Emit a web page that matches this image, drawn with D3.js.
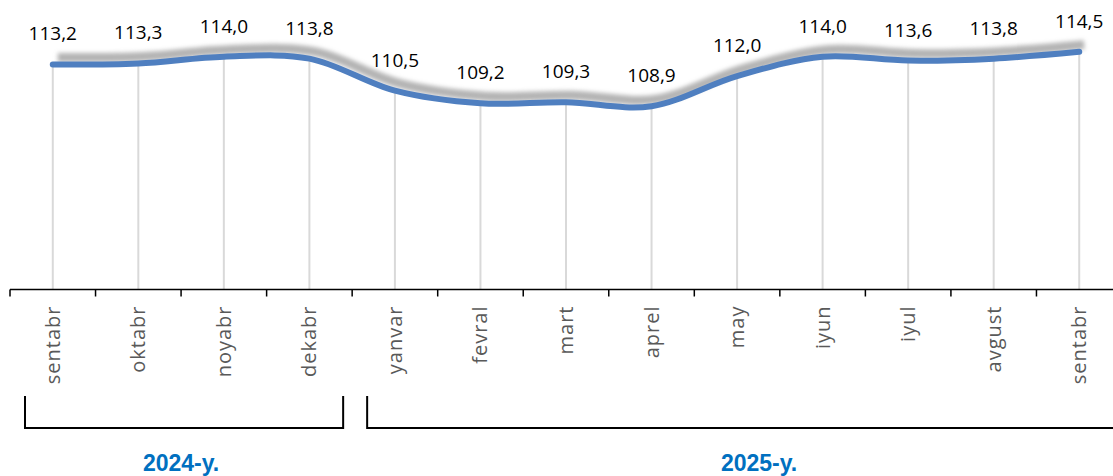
<!DOCTYPE html>
<html>
<head>
<meta charset="utf-8">
<script src="https://cdn.jsdelivr.net/npm/d3@7"></script>
<style>
    html, body { margin: 0; padding: 0; background: #fff; }
    svg { display: block; }
</style>
</head>
<body>
<svg id="chart" width="1113" height="476"></svg>
<script>
// Chart data
const months = [
    "sentabr", "oktabr", "noyabr", "dekabr", "yanvar", "fevral", "mart",
    "aprel", "may", "iyun", "iyul", "avgust", "sentabr",
];
const values = [113.2, 113.3, 114.0, 113.8, 110.5, 109.2, 109.3, 108.9, 112.0, 114.0, 113.6, 113.8, 114.5];
const yearLabels = ["2024-y.", "2025-y."];
const yearSpans = [[0, 3], [4, 12]]; // index ranges of months per year

const width = 1113;
const height = 476;
const axisY = 289.5;

const svg = d3.select("#chart");

// keys are indices so the two "sentabr" stay separate bands
const keys = months.map((d, i) => i);

const xScale = d3.scaleBand()
    .domain(keys)
    .range([10, 1122])
    .padding(0);

const xCenter = (i) => xScale(i) + xScale.bandwidth() / 2;

const yScale = d3.scaleLinear()
    .domain([90, 116])
    .range([axisY, axisY - 26 * 9.7]);

// Soft shadow filter for the line
const defs = svg.append("defs");
defs.append("filter")
    .attr("id", "shadowBlur")
    .attr("x", "-5%").attr("y", "-50%")
    .attr("width", "110%").attr("height", "200%")
    .append("feGaussianBlur")
    .attr("stdDeviation", 2);

// Drop lines from each point to the axis
svg.append("g")
    .selectAll("line")
    .data(values)
    .join("line")
    .attr("x1", (d, i) => xCenter(i))
    .attr("x2", (d, i) => xCenter(i))
    .attr("y1", (d) => yScale(d))
    .attr("y2", axisY)
    .attr("stroke", "#d9d9d9")
    .attr("stroke-width", 2);

// X axis with ticks on band boundaries
const xAxisG = svg.append("g")
    .attr("transform", `translate(0,${axisY})`);

xAxisG.append("line")
    .attr("x1", 10).attr("x2", width)
    .attr("stroke", "#000").attr("stroke-width", 1.5);

xAxisG.selectAll(".tick-mark")
    .data(keys)
    .join("line")
    .attr("class", "tick-mark")
    .attr("x1", (i) => xScale(i))
    .attr("x2", (i) => xScale(i))
    .attr("y1", 0).attr("y2", 7)
    .attr("stroke", "#000").attr("stroke-width", 1.5);

xAxisG.selectAll(".month")
    .data(keys)
    .join("text")
    .attr("class", "month")
    .attr("transform", (i) => `translate(${xCenter(i)},16) rotate(-90)`)
    .attr("dy", "0.35em")
    .attr("text-anchor", "end")
    .style("font-family", "'Open Sans', sans-serif")
    .style("font-size", "20px")
    .style("letter-spacing", "1px")
    .style("fill", "#595959")
    .text((i) => months[i]);

// Smoothed line
const line = d3.line()
    .x((d, i) => xCenter(i))
    .y((d) => yScale(d))
    .curve(d3.curveCatmullRom.alpha(0.5));

svg.append("path")
    .datum(values)
    .attr("fill", "none")
    .attr("stroke", "#a0a0a0")
    .attr("stroke-opacity", 0.8)
    .attr("stroke-width", 9)
    .attr("stroke-linecap", "butt")
    .attr("transform", "translate(5,-7)")
    .attr("filter", "url(#shadowBlur)")
    .attr("d", line);

svg.append("path")
    .datum(values)
    .attr("fill", "none")
    .attr("stroke", "#4f7fc0")
    .attr("stroke-width", 6)
    .attr("stroke-linecap", "round")
    .attr("d", line);

// Data labels
svg.append("g")
    .selectAll("text")
    .data(values)
    .join("text")
    .attr("x", (d, i) => xCenter(i))
    .attr("y", (d) => yScale(d) - 24)
    .attr("text-anchor", "middle")
    .style("font-family", "'Open Sans', sans-serif")
    .style("font-size", "19px")
    .style("fill", "#000")
    .text((d) => d.toFixed(1).replace(".", ","));

// Year brackets
const bracketTop = 396;
const bracketBottom = 428;

yearSpans.forEach(([a, b], k) => {
    const x0 = xScale(a) + 15;
    const x1 = k === yearSpans.length - 1 ? width + 10 : xScale(b) + xScale.bandwidth() - 9;
    svg.append("path")
        .attr("d", `M${x0},${bracketTop}V${bracketBottom}H${x1}V${bracketTop}`)
        .attr("fill", "none")
        .attr("stroke", "#000")
        .attr("stroke-width", 2);

    const mid = k === 0
        ? (xScale(a) + xScale(b) + xScale.bandwidth()) / 2
        : (xScale(a) + xScale(b) + xScale.bandwidth()) / 2 + 22;
    svg.append("text")
        .attr("x", mid)
        .attr("y", 471)
        .attr("text-anchor", "middle")
        .style("font-family", "'Liberation Sans', Arial, sans-serif")
        .style("font-weight", "bold")
        .style("font-size", "23px")
        .style("fill", "#0070c0")
        .text(yearLabels[k]);
});
</script>
</body>
</html>
